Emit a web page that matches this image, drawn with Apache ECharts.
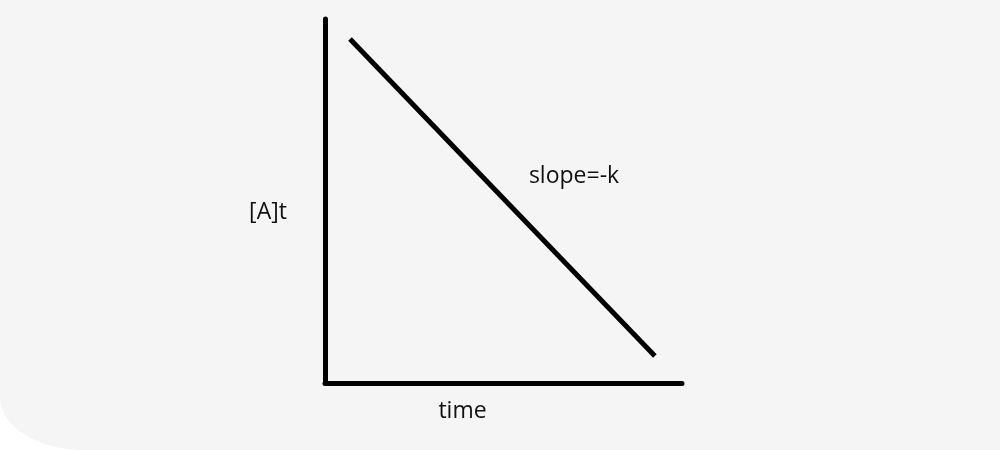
<!DOCTYPE html>
<html>
<head>
<meta charset="utf-8">
<script src="https://cdn.jsdelivr.net/npm/echarts@6/dist/echarts.min.js"></script>
<style>
html,body{margin:0;padding:0;background:#ffffff;}
#main{width:1000px;height:450px;}
</style>
</head>
<body>
<div id="main"></div>
<script>
// Data
const linePoints = [[7, 94.5], [92.4, 7.4]];
const xName = 'time';
const yName = '[A]t';
const slopeLabel = 'slope=-k';

const chart = echarts.init(document.getElementById('main'));
const font = '"Open Sans", "Noto Sans", sans-serif';
const bg = '#f5f5f5';
chart.setOption({
  animation: false,
  grid: { left: 325, right: 318, top: 19, bottom: 67 },
  xAxis: {
    type: 'value', min: 0, max: 100,
    axisLine: { show: true, lineStyle: { color: '#000', width: 5 } },
    axisTick: { show: false }, axisLabel: { show: false }, splitLine: { show: false },
    name: xName, nameLocation: 'middle', nameGap: 17,
    nameTextStyle: { color: '#111', fontFamily: font, fontSize: 23, padding: [0, 82, 0, 0] }
  },
  yAxis: {
    type: 'value', min: 0, max: 100,
    axisLine: { show: true, lineStyle: { color: '#000', width: 5 } },
    axisTick: { show: false }, axisLabel: { show: false }, splitLine: { show: false }
  },
  graphic: [
    { type: 'rect', z: -10, silent: true, shape: { x: 0, y: 0, width: 1000, height: 397 }, style: { fill: bg } },
    { type: 'rect', z: -10, silent: true, shape: { x: 83, y: 390, width: 917, height: 60 }, style: { fill: bg } },
    { type: 'group', x: 83, y: 397, scaleY: 53 / 83, silent: true, z: -10, children: [
      { type: 'circle', z: -10, shape: { cx: 0, cy: 0, r: 83 }, style: { fill: bg } }
    ] },
    { type: 'text', x: 268, y: 212, style: { text: yName, fill: '#111', font: '23px ' + font, align: 'center', verticalAlign: 'middle' } },
    { type: 'text', x: 574, y: 176, style: { text: slopeLabel, fill: '#111', font: '23px ' + font, align: 'center', verticalAlign: 'middle' } }
  ],
  series: [{
    type: 'line', data: linePoints, symbol: 'none',
    lineStyle: { color: '#000', width: 5 }
  }]
});
</script>
</body>
</html>
